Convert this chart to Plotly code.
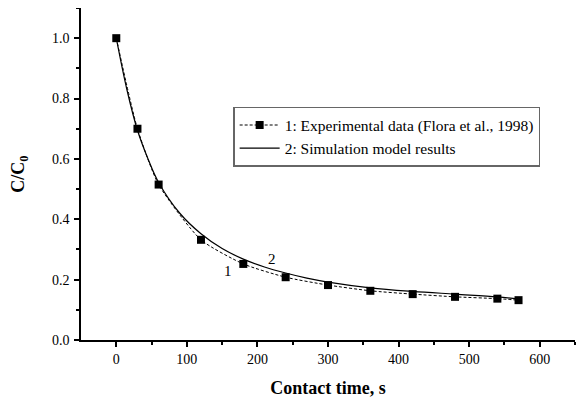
import plotly.graph_objects as go

exp_t = [0, 30, 60, 120, 180, 240, 300, 360, 420, 480, 540, 570]
exp_c = [1.0, 0.70, 0.515, 0.332, 0.252, 0.208, 0.182, 0.163, 0.152, 0.143, 0.137, 0.132]

sim_t = [0, 15, 30, 45, 60, 90, 120, 150, 180, 210, 240, 270, 300, 360, 420, 480, 540, 570]
sim_c = [1.0, 0.83, 0.695, 0.60, 0.522, 0.42, 0.352, 0.303, 0.268, 0.242, 0.222, 0.205, 0.192, 0.173, 0.161, 0.152, 0.143, 0.136]

fnt = "Liberation Serif"

fig = go.Figure()
fig.add_trace(go.Scatter(
    x=exp_t, y=exp_c, mode="lines+markers",
    name="1: Experimental data (Flora et al., 1998)",
    line=dict(color="black", width=1, dash="3px,2px", shape="spline", smoothing=0.6),
    marker=dict(symbol="square", size=8, color="black"),
))
fig.add_trace(go.Scatter(
    x=sim_t, y=sim_c, mode="lines",
    name="2: Simulation model results",
    line=dict(color="black", width=1.2, shape="spline"),
))

fig.add_annotation(x=158, y=0.228, text="1", showarrow=False, font=dict(family=fnt, size=15, color="black"))
fig.add_annotation(x=220, y=0.268, text="2", showarrow=False, font=dict(family=fnt, size=15, color="black"))

fig.update_layout(
    width=586, height=398,
    margin=dict(l=73, r=19, t=0, b=66),
    plot_bgcolor="white", paper_bgcolor="white",
    font=dict(family=fnt, size=14, color="black"),
    showlegend=True,
    legend=dict(
        x=0.308, y=0.702, xanchor="left", yanchor="top",
        bgcolor="white", bordercolor="#666", borderwidth=1.5,
        font=dict(family=fnt, size=15.5, color="black"),
        itemwidth=40, tracegroupgap=0,
    ),
    xaxis=dict(
        range=[-50, 650], tickvals=[0, 100, 200, 300, 400, 500, 600],
        ticks="outside", ticklen=5, tickwidth=1.5, tickcolor="black",
        minor=dict(tickvals=[50, 150, 250, 350, 450, 550, 650], ticks="outside", ticklen=3, tickcolor="black", tickwidth=1.5),
        showline=True, linecolor="black", linewidth=1.5, showgrid=False, zeroline=False,
        automargin=False,
        title=dict(text="<b>Contact time, s</b>", font=dict(family=fnt, size=18), standoff=16),
        tickfont=dict(family=fnt, size=14),
    ),
    yaxis=dict(
        range=[0, 1.1], tickvals=[0, 0.2, 0.4, 0.6, 0.8, 1.0], tickformat=".1f",
        ticks="outside", ticklen=5, tickwidth=1.5, tickcolor="black",
        minor=dict(tickvals=[0.1, 0.3, 0.5, 0.7, 0.9, 1.1], ticks="outside", ticklen=3, tickcolor="black", tickwidth=1.5),
        showline=True, linecolor="black", linewidth=1.5, showgrid=False, zeroline=False,
        automargin=False, ticklabelstandoff=2,
        title=dict(text="<b>C/C<sub>0</sub></b>", font=dict(family=fnt, size=18), standoff=24),
        tickfont=dict(family=fnt, size=14),
    ),
)

fig.write_html("out.html")
